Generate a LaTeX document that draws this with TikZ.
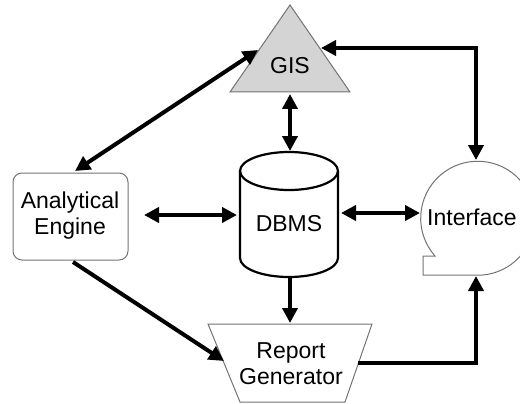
\documentclass[tikz,border=0pt]{standalone}
\usepackage{fontspec}
\setmainfont{Liberation Sans}
\usetikzlibrary{arrows.meta}
\tikzset{
  conn/.style={line width=4pt, arrows={-Triangle[length=15pt,width=15pt]}},
  conn2/.style={line width=4pt, arrows={Triangle[length=15pt,width=15pt]-Triangle[length=15pt,width=15pt]}},
  shapeline/.style={draw=black!55, line width=1pt},
  lbl/.style={font=\fontsize{23}{26}\selectfont, align=center, inner sep=0pt}
}
\begin{document}
\begin{tikzpicture}[x=1pt,y=-1pt]
\useasboundingbox (0,0) rectangle (520,404);
% GIS triangle
\path[shapeline, fill=black!17] (290,5) -- (230,92) -- (350,92) -- cycle;
\node[lbl] (gis) at (290,66) {GIS};
% Analytical Engine
\draw[shapeline, rounded corners=9pt] (13,173) rectangle (128,260);
\node[lbl] (ae) at (70,216) {Analytical\\Engine};
% DBMS cylinder
\draw[line width=2.2pt] (240,171) -- (240,258) arc[start angle=180,end angle=360,x radius=49pt,y radius=19pt] -- (338,171);
\draw[line width=2.2pt] (289,171) ellipse[x radius=49pt,y radius=19pt];
\node[lbl] (db) at (289,224) {DBMS};
% Interface tape shape
\draw[shapeline] (435,256) arc[start angle=221.5,end angle=-90,radius=57pt] -- (423,275) -- (423,256) -- cycle;
\node[lbl, anchor=west] (if) at (427,217) {Interface};
% Report Generator trapezoid
\draw[shapeline] (208,324) -- (372,324) -- (345,402) -- (240,402) -- cycle;
\node[lbl] (rg) at (291,364) {Report\\Generator};
% connector end points
\coordinate (gisL) at (258,50);
\coordinate (aeT) at (75,171);
\coordinate (gisB) at (290,94);
\coordinate (dbT) at (290,151);
\coordinate (gisR) at (321,48);
\coordinate (c1) at (476,48);
\coordinate (ifT) at (476,160);
\coordinate (aeR) at (144,215);
\coordinate (dbL) at (237,215);
\coordinate (dbR) at (341,213);
\coordinate (ifL) at (420,213);
\coordinate (dbB) at (290,278);
\coordinate (rgT) at (290,323);
\coordinate (aeB) at (73,262);
\coordinate (rgL) at (224,361);
\coordinate (rgR) at (358,363);
\coordinate (c2) at (476,363);
\coordinate (ifB) at (476,276);
% connectors
\draw[conn2] (aeT) -- (gisL);
\draw[conn2] (gisB) -- (dbT);
\draw[conn2, line join=miter] (gisR) -- (c1) -- (ifT);
\draw[conn2] (aeR) -- (dbL);
\draw[conn2] (dbR) -- (ifL);
\draw[conn] (dbB) -- (rgT);
\draw[conn] (aeB) -- (rgL);
\draw[conn, line join=miter] (rgR) -- (c2) -- (ifB);
\end{tikzpicture}
\end{document}
